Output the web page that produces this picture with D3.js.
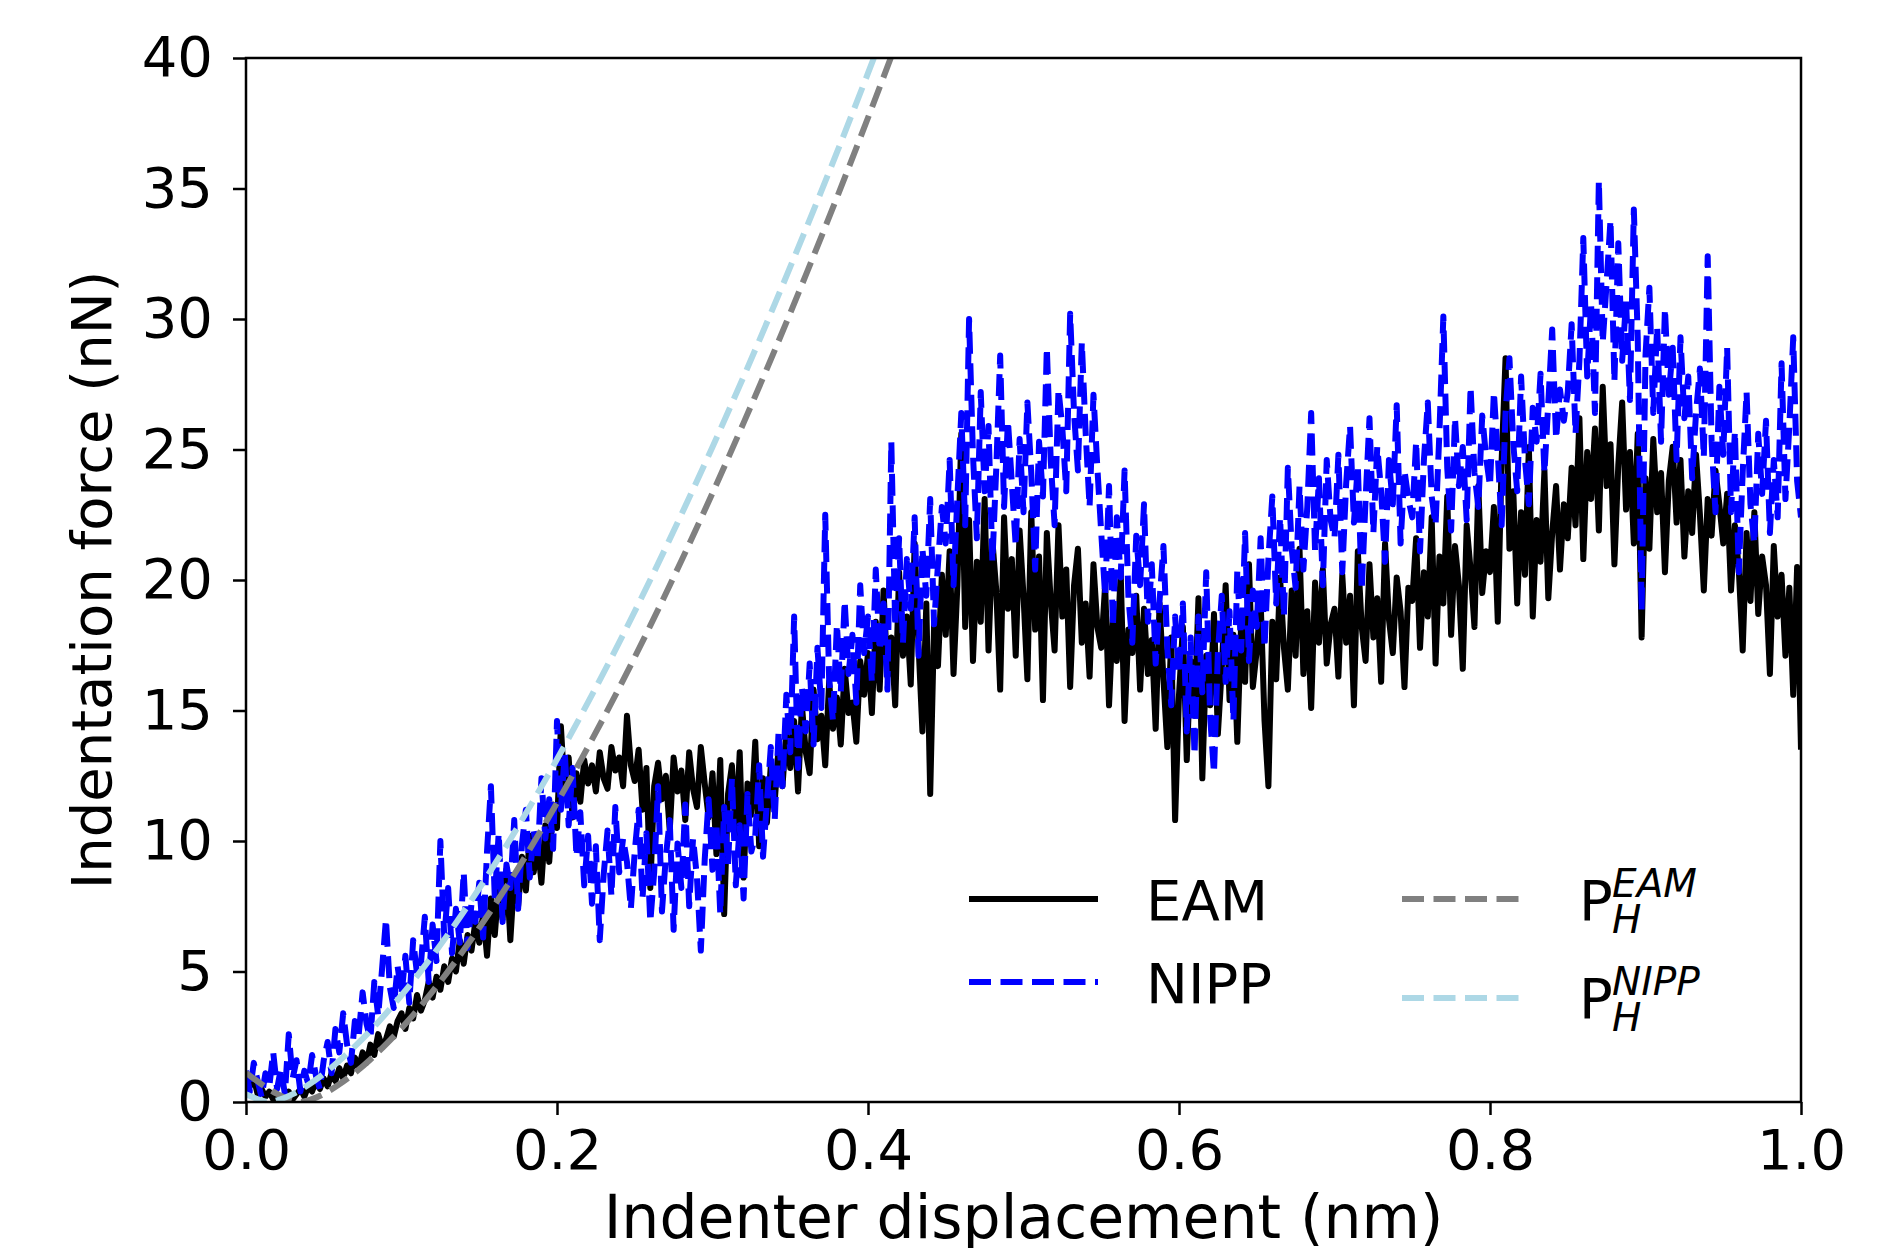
<!DOCTYPE html>
<html><head><meta charset="utf-8">
<script src="https://cdn.jsdelivr.net/npm/d3@7"></script>
<style>body{margin:0;background:#fff}svg{display:block}text{font-family:"DejaVu Sans",sans-serif}</style>
</head><body>
<script>
// EAM force (nN), sampled uniformly over displacement 0..1 nm
const eam = [
1.1,0.6,0.9,0.3,0.5,0.2,0.4,0.1,0.3,0.0,0.2,0.4,0.1,0.3,0.5,0.2,0.6,0.4,0.8,0.5,
0.9,0.6,1.1,0.8,1.3,0.9,1.4,1.1,1.7,1.3,1.9,1.5,2.2,1.8,2.6,2.1,2.4,2.9,2.5,3.1,
3.4,2.8,3.6,3.2,4.1,3.5,3.9,4.6,4.0,4.8,4.3,5.2,4.6,5.5,5.0,6.2,5.3,6.4,5.8,6.9,
6.1,7.2,5.6,7.8,6.4,8.3,7.0,8.9,6.2,8.6,7.5,9.4,8.1,10.2,8.8,9.9,8.4,10.6,9.2,11.4,
10.5,14.4,11.8,13.2,10.9,12.6,11.5,13.1,12.2,12.9,11.9,13.4,12.4,12.0,13.6,12.7,13.2,12.1,14.8,12.9,
12.3,13.5,11.2,12.8,8.2,12.1,13.0,11.6,12.5,10.4,13.2,11.9,12.7,10.8,13.4,12.0,11.3,13.6,12.2,10.9,
12.6,9.5,13.1,7.2,11.8,12.9,10.2,13.4,8.6,12.2,11.0,13.8,9.8,12.4,10.7,12.9,11.5,13.6,12.1,14.2,
12.8,14.6,11.9,15.2,13.4,12.6,15.8,13.9,14.8,12.9,16.1,14.3,15.5,13.7,16.6,14.9,15.3,13.8,16.9,15.6,
17.2,14.9,18.4,15.8,19.6,16.3,17.8,15.2,20.3,17.1,18.6,16.0,21.4,17.5,14.2,19.1,11.8,18.3,16.7,20.2,
17.9,21.1,16.4,19.8,25.6,18.2,22.3,16.9,20.7,18.4,23.1,17.3,21.5,19.6,15.8,22.4,18.9,20.8,17.1,21.9,
19.4,16.2,22.6,18.1,20.9,15.4,21.8,19.2,17.3,22.1,18.6,20.4,15.9,19.8,21.2,17.6,19.1,16.3,20.6,18.2,
17.4,19.8,15.2,18.6,16.9,20.3,14.6,18.1,17.2,19.4,15.8,18.9,16.4,17.7,14.3,19.1,16.2,13.6,17.8,10.8,
15.6,18.2,13.1,16.9,14.8,19.3,12.4,17.1,15.2,18.7,14.1,16.6,19.8,15.4,17.9,13.8,18.4,16.1,20.6,15.9,
17.3,19.2,14.6,12.1,18.4,16.2,20.1,17.4,15.8,19.6,17.1,21.2,16.4,18.8,15.1,19.9,17.6,20.4,16.8,18.3,
18.9,16.3,20.2,17.6,19.4,15.2,21.1,18.2,16.9,20.6,17.8,19.3,16.1,21.4,18.5,17.2,20.1,18.8,15.9,19.7,
19.2,21.6,17.4,20.3,18.6,22.4,16.8,20.9,19.1,23.2,17.9,21.3,19.8,16.6,22.1,20.4,18.2,23.6,19.5,21.1,
20.3,22.8,18.4,24.6,28.5,21.2,23.4,19.1,22.6,20.2,25.1,18.6,22.3,20.7,24.2,19.3,21.8,23.6,20.4,22.9,
21.6,24.3,22.1,26.2,20.8,24.9,23.1,25.8,21.9,27.4,23.6,25.2,20.6,24.4,26.8,22.7,24.9,21.4,25.6,17.8,
23.9,21.2,25.4,22.6,24.1,20.3,23.8,25.1,22.2,24.6,20.9,23.4,21.8,24.8,22.5,19.6,23.1,21.7,24.2,22.9,
21.4,23.3,19.6,22.1,20.4,17.3,21.8,19.2,22.6,18.7,20.9,19.8,16.4,21.3,18.6,20.2,17.1,19.7,15.6,20.5,
13.5];
// NIPP force (nN)
const nipp = [
1.2,0.4,1.5,0.8,0.2,1.1,0.6,1.9,0.5,1.3,0.3,2.6,0.9,1.6,0.4,1.2,0.7,1.8,1.0,0.5,
1.6,2.3,1.1,2.8,1.9,3.4,2.2,1.5,3.1,2.6,4.2,3.0,2.4,4.6,3.3,5.1,7.0,4.4,3.6,5.2,
4.1,5.6,3.8,6.2,4.9,5.3,7.1,4.6,6.8,5.4,10.0,6.3,8.2,5.7,7.4,6.1,8.8,5.9,7.6,6.9,
8.4,6.3,9.6,12.1,7.8,10.3,6.9,9.1,8.2,10.8,7.4,9.9,11.2,8.6,10.4,9.3,12.4,10.1,11.6,9.7,
14.6,11.2,13.4,10.6,12.8,9.4,11.1,8.3,10.2,7.6,9.8,6.2,8.7,10.4,7.9,11.3,8.8,10.1,9.2,7.4,
9.6,11.2,7.8,10.3,6.9,8.8,12.1,7.3,9.4,10.8,6.6,9.9,8.2,11.4,7.5,10.1,8.6,5.8,9.3,11.6,
8.9,10.7,7.2,11.3,9.1,12.4,8.3,10.6,7.8,11.8,9.6,10.2,12.9,9.4,11.5,13.6,10.8,14.2,12.1,15.6,
13.4,18.6,12.8,15.9,14.2,16.8,13.7,17.4,15.1,22.5,16.2,14.6,18.3,15.7,19.2,16.4,17.9,15.3,19.8,17.2,
18.6,16.1,20.4,17.3,19.1,15.8,25.3,18.2,21.6,17.6,20.8,18.9,22.4,17.1,21.2,19.4,23.1,18.3,20.6,22.8,
21.4,24.6,19.8,23.2,26.4,22.1,30.0,24.8,21.6,27.2,23.4,25.9,20.7,24.3,28.6,22.8,26.1,23.7,21.3,25.4,
22.6,26.8,24.1,20.4,25.3,23.2,28.9,24.6,22.1,27.3,25.8,23.4,30.2,26.4,24.2,29.1,25.6,22.8,27.1,24.3,
21.8,19.4,23.6,18.2,22.4,20.1,24.2,19.3,17.6,21.7,19.8,22.9,18.4,20.6,16.8,19.2,21.3,17.4,15.2,18.6,
16.4,19.1,14.2,17.8,13.3,18.6,15.7,20.3,14.8,12.6,17.2,19.4,16.1,18.8,14.6,20.4,17.3,21.8,16.9,19.6,
18.2,21.6,17.4,20.8,23.2,19.1,22.4,18.6,24.3,21.2,19.7,23.6,20.4,22.8,26.4,21.1,23.9,19.8,24.6,22.3,
21.6,24.8,20.3,23.7,25.9,22.2,24.4,19.6,23.1,26.2,21.8,25.1,23.4,20.7,24.6,22.9,26.7,21.4,24.2,23.1,
22.4,25.3,21.1,24.6,26.8,23.2,22.1,25.7,30.1,24.3,21.9,26.2,23.6,25.1,22.3,27.4,24.1,22.8,26.3,24.7,
23.6,27.2,24.8,22.1,26.4,28.5,25.2,23.4,27.8,24.6,22.9,26.6,25.3,27.9,24.1,26.8,29.6,25.4,27.3,26.1,
27.2,29.8,25.6,28.4,33.1,27.8,30.6,26.4,35.3,29.1,31.4,33.8,27.6,32.9,28.4,30.7,26.9,34.2,29.3,18.8,
28.6,31.2,26.4,29.7,25.3,30.4,27.1,28.9,24.6,29.3,26.2,27.8,23.9,26.4,28.1,24.7,32.4,25.3,22.6,27.4,
24.8,28.9,22.6,25.7,20.3,24.1,27.2,22.9,21.4,25.6,23.3,26.1,21.8,24.6,22.4,28.3,23.1,25.9,29.3,23.8,
22.4];
// Hertzian fits
const hertzEamX = [0,0.01,0.02,0.03,0.035,0.04,0.05,0.06,0.07,0.08,0.09,0.10,0.12,0.14,0.16,0.18,0.20,0.22,0.24,0.26,0.28,0.30,0.32,0.34,0.36,0.38,0.40,0.42];
const hertzEamY = [1.12,0.68,0.31,0.06,0,0.06,0.31,0.68,1.12,1.63,2.21,2.83,4.24,5.82,7.56,9.44,11.46,13.61,15.87,18.25,20.74,23.33,26.02,28.80,31.68,34.65,37.71,40.85];
const hertzNippX = [0,0.005,0.01,0.015,0.02,0.03,0.04,0.05,0.06,0.07,0.08,0.09,0.10,0.12,0.14,0.16,0.18,0.20,0.22,0.24,0.26,0.28,0.30,0.32,0.34,0.36,0.38,0.40,0.42];
const hertzNippY = [0.30,0.17,0.06,0,0.06,0.30,0.65,1.08,1.58,2.13,2.73,3.39,4.09,5.61,7.29,9.11,11.06,13.13,15.32,17.61,20.01,22.51,25.10,27.79,30.57,33.44,36.38,39.42,42.53];
const xTicks = [0, 0.2, 0.4, 0.6, 0.8, 1.0];
const yTicks = [0, 5, 10, 15, 20, 25, 30, 35, 40];

const W = 1881, H = 1248;
const m = {left: 246, right: 1801, top: 58, bottom: 1102};
const svg = d3.select("body").append("svg").attr("width", W).attr("height", H);
const x = d3.scaleLinear().domain([0, 1]).range([m.left, m.right]);
const y = d3.scaleLinear().domain([0, 40]).range([m.bottom, m.top]);

svg.append("defs").append("clipPath").attr("id", "clip")
  .append("rect").attr("x", m.left).attr("y", m.top).attr("width", m.right - m.left).attr("height", m.bottom - m.top);

const toPts = arr => arr.map((v, i) => [i / (arr.length - 1), v]);
const line = d3.line().x(d => x(d[0])).y(d => y(d[1]));
const smooth = d3.line().x(d => x(d[0])).y(d => y(d[1])).curve(d3.curveMonotoneX);
const g = svg.append("g").attr("clip-path", "url(#clip)");
const LW = 6, DASH = "22 9.5";

g.append("path").attr("d", line(toPts(eam))).attr("fill", "none").attr("stroke", "#000")
  .attr("stroke-width", LW).attr("stroke-linejoin", "round");
g.append("path").attr("d", line(toPts(nipp))).attr("fill", "none").attr("stroke", "#0000ff")
  .attr("stroke-width", LW).attr("stroke-linejoin", "round").attr("stroke-dasharray", DASH);
g.append("path").attr("d", smooth(hertzEamX.map((v, i) => [v, hertzEamY[i]]))).attr("fill", "none")
  .attr("stroke", "#808080").attr("stroke-width", LW).attr("stroke-dasharray", DASH);
g.append("path").attr("d", smooth(hertzNippX.map((v, i) => [v, hertzNippY[i]]))).attr("fill", "none")
  .attr("stroke", "#add8e6").attr("stroke-width", LW).attr("stroke-dasharray", DASH);

// axes
const fs = 56;
const xAxis = svg.append("g").attr("transform", `translate(0,${m.bottom})`)
  .call(d3.axisBottom(x).tickValues(xTicks).tickFormat(d3.format(".1f")).tickSize(13).tickPadding(14));
const yAxis = svg.append("g").attr("transform", `translate(${m.left},0)`)
  .call(d3.axisLeft(y).tickValues(yTicks).tickFormat(d3.format("d")).tickSize(13).tickPadding(20));
[xAxis, yAxis].forEach(a => {
  a.select(".domain").remove();
  a.selectAll("line").attr("stroke", "#000").attr("stroke-width", 2.5);
  a.selectAll("text").attr("font-size", fs).attr("fill", "#000").attr("font-family", "DejaVu Sans");
});
svg.append("rect").attr("x", m.left).attr("y", m.top).attr("width", m.right - m.left).attr("height", m.bottom - m.top)
  .attr("fill", "none").attr("stroke", "#000").attr("stroke-width", 2.5);

svg.append("text").attr("x", (m.left + m.right) / 2).attr("y", 1238).attr("text-anchor", "middle")
  .attr("font-size", 60).text("Indenter displacement (nm)");
svg.append("text").attr("transform", `translate(111,${(m.top + m.bottom) / 2}) rotate(-90)`).attr("text-anchor", "middle")
  .attr("font-size", fs).text("Indentation force (nN)");

// legend
const leg = svg.append("g");
const items = [
  {x1: 969, x2: 1098, y: 899, color: "#000", dash: null, tx: 1146, ty: 920, label: "EAM"},
  {x1: 969, x2: 1098, y: 982, color: "#0000ff", dash: DASH, tx: 1146, ty: 1003, label: "NIPP"},
  {x1: 1402, x2: 1522, y: 899, color: "#808080", dash: DASH, tx: 1579, ty: 920, label: "P", sup: "EAM", sub: "H"},
  {x1: 1402, x2: 1522, y: 998, color: "#add8e6", dash: DASH, tx: 1579, ty: 1018, label: "P", sup: "NIPP", sub: "H"}
];
items.forEach(d => {
  leg.append("line").attr("x1", d.x1).attr("x2", d.x2).attr("y1", d.y).attr("y2", d.y)
    .attr("stroke", d.color).attr("stroke-width", LW).attr("stroke-dasharray", d.dash);
  leg.append("text").attr("x", d.tx).attr("y", d.ty).attr("font-size", fs).text(d.label);
  if (d.sup) {
    leg.append("text").attr("x", d.tx + 33).attr("y", d.ty - 23).attr("font-size", 39).attr("font-style", "italic").text(d.sup);
    leg.append("text").attr("x", d.tx + 33).attr("y", d.ty + 13).attr("font-size", 39).attr("font-style", "italic").text(d.sub);
  }
});
</script>
</body></html>
